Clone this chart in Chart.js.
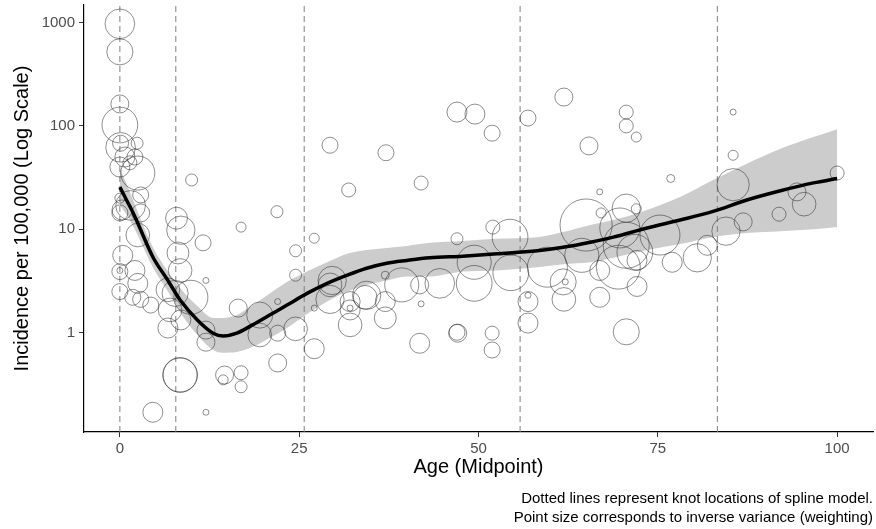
<!DOCTYPE html>
<html>
<head>
<meta charset="utf-8">
<title>Incidence by age</title>
<script src="https://cdn.jsdelivr.net/npm/chart.js@4.4.0/dist/chart.umd.min.js"></script>
<style>
  body { margin: 0; background: #fff; }
  canvas { display: block; }
</style>
</head>
<body>
<canvas id="Chart" width="876" height="529"></canvas>
<script>
// one entry per study: age midpoint, incidence per 100,000, weight (inverse variance)
var studyAge = [
    0, 0, 0, 0, 0.1, 0.1, 2.4, 0.7, 2.1, 2.5, 0, 1.4, 0, 2.9, 1.5, 0,
    10.0, 21.9, 29.3, 7.9, 8.5, 8.1, 8.4, 11.6, 16.9, 0.3, 2.9, 2.5, 0.4, 0, 0, 2.1,
    2.5, 0, 1.8, 2.9, 4.3, 6.7, 7.7, 9.9, 7.0, 8.5, 6.7, 12.0, 12.0, 12.0, 16.5, 8.4,
    8.4, 14.6, 14.4, 16.9, 16.9, 4.6, 12.0, 24.5, 27.1, 24.5, 22.0, 19.5, 19.5, 22.0, 24.5, 27.1,
    22.0, 29.6, 29.3, 29.3, 32.1, 32.1, 34.2, 37.0, 37.0, 37.0, 39.3, 41.8, 42.0, 41.8, 27.1, 37.1,
    31.9, 42.0, 47.0, 49.5, 51.9, 56.9, 61.9, 65.4, 52.0, 47.0, 54.4, 65.0, 32.1, 32.1, 34.4, 44.6,
    49.4, 49.4, 54.5, 56.9, 56.9, 59.6, 61.8, 61.9, 47.1, 47.0, 51.9, 51.9, 56.9, 66.9, 76.8, 66.9,
    67.1, 70.6, 72.0, 69.7, 70.6, 75.3, 72.1, 77.0, 80.5, 81.9, 84.5, 86.9, 85.5, 64.4, 66.9, 69.5,
    62.1, 72.1, 70.6, 70.6, 70.6, 72.0, 85.5, 85.5, 100, 94.4, 95.4, 91.9, 71.8
];
var studyRate = [
    970, 520, 163, 102, 62, 68, 68, 50, 50, 35, 40, 44, 20, 21.5, 17, 14.4,
    30, 14.8, 65, 12.8, 9.8, 5.9, 4.0, 7.4, 10.5, 15.4, 14.4, 8.8, 5.6, 3.9, 4.0, 4.0,
    3.0, 2.5, 2.2, 2.1, 1.85, 2.6, 2.4, 2.2, 1.66, 1.33, 1.11, 1.06, 0.81, 3.2, 1.73, 0.39,
    0.39, 0.39, 0.35, 0.41, 0.30, 0.17, 0.17, 6.2, 8.2, 3.6, 2.0, 1.48, 0.95, 0.99, 1.09, 0.70,
    0.51, 3.2, 2.9, 2.1, 1.66, 1.19, 2.2, 2.0, 1.39, 3.6, 2.9, 2.9, 1.9, 0.79, 1.73, 55,
    24, 28, 136, 130, 85, 119, 190, 64, 10.5, 8.1, 8.4, 11, 2.0, 1.73, 2.3, 3.0,
    4.8, 3.0, 3.8, 2.0, 1.24, 4.3, 3.1, 2.1, 0.99, 1.01, 0.99, 0.68, 2.3, 2.2, 31, 23,
    14.4, 16, 15.8, 10.3, 7.0, 8.8, 5.0, 4.8, 5.3, 7.0, 9.6, 11.8, 27, 5.6, 4.0, 4.3,
    3.1, 2.8, 1.02, 136, 100, 78, 136, 52, 35, 23, 17.5, 14, 6.0
];
var studyWeight = [
    22, 17, 8.1, 32, 22, 6.4, 3.6, 10, 6.4, 29, 10, 4.9, 2.5, 6.4, 22, 6.4,
    3.6, 3.6, 6.4, 12, 20, 12, 14, 6.4, 2.5, 10, 8.1, 14, 10, 6.4, 0.9, 10,
    10, 6.4, 6.4, 6.4, 6.4, 14, 17, 29, 14, 10, 10, 8.1, 8.1, 0.9, 8.1, 29,
    30, 8.1, 2.5, 4.9, 3.6, 10, 0.9, 3.6, 2.5, 3.6, 0.9, 17, 14, 6.4, 14, 10,
    8.1, 20, 14, 20, 10, 14, 14, 10, 12, 1.6, 29, 8.1, 0.9, 10, 0.9, 6.4,
    4.9, 4.9, 10, 10, 6.4, 6.4, 8.1, 8.1, 4.9, 3.6, 32, 68, 10, 0.9, 20, 22,
    29, 32, 32, 10, 10, 40, 17, 14, 8.1, 6.4, 4.9, 6.4, 0.9, 10, 1.6, 0.9,
    2.5, 20, 2.5, 40, 53, 40, 10, 10, 20, 10, 20, 8.1, 26, 29, 10, 48,
    0.9, 10, 17, 4.9, 4.9, 2.5, 0.9, 2.5, 4.9, 8.1, 14, 4.9, 32
];

// spline fit and its confidence band
var fitAge = [0, 1, 2, 4.6, 6.7, 8.4, 10.8, 13.0, 14.4, 16.3, 18.5, 20.9, 23.3, 26.1, 28.9, 31.7,
    34.4, 37.2, 40.0, 43.2, 47.8, 52.6, 58.2, 61.8, 65.6, 68.8, 73.5, 78.1, 82.7, 87.4, 92.1, 96.7, 100];
var fitRate = [25.6, 18.8, 13.7, 5.4, 3.2, 2.07, 1.33, 0.99, 0.93, 0.99, 1.19, 1.48, 1.85, 2.4, 3.0, 3.6,
    4.2, 4.7, 5.0, 5.3, 5.5, 5.8, 6.2, 6.7, 7.5, 8.4, 10.3, 12.3, 14.9, 19.2, 23.6, 28.1, 31];
var fitLower = [17, 13.7, 10.3, 4.3, 2.5, 1.58, 0.95, 0.68, 0.64, 0.65, 0.73, 0.89, 1.11, 1.52, 2.0, 2.5,
    2.9, 3.2, 3.5, 3.5, 3.9, 4.0, 4.3, 4.6, 4.8, 5.3, 6.3, 7.2, 8.4, 9.2, 9.6, 10.0, 10.5];
var fitUpper = [39, 27, 18, 6.7, 3.9, 2.7, 1.81, 1.39, 1.39, 1.48, 1.85, 2.4, 3.1, 3.9, 4.8, 5.8,
    6.3, 6.6, 6.9, 7.4, 7.7, 8.1, 8.4, 9.4, 11, 12.3, 15.4, 20.5, 30, 43, 60, 78, 93];

var knots = [0, 7.8, 25.7, 55.8, 83.3];

var xTicks = [0, 25, 50, 75, 100];
var yTicks = [1, 10, 100, 1000];
var xMin = -5, xMax = 105;
var yMin = 0.1096, yMax = 1476;

var FONT = "'Liberation Sans', Arial, sans-serif";

function points(xs, ys) {
    return xs.map(function(x, i) { return {x: x, y: ys[i]}; });
}

var datasets = [];

// grey band (upper edge, then lower edge filled back to it)
datasets.push({
    type: 'line',
    data: points(fitAge, fitUpper),
    borderColor: 'rgba(0,0,0,0)',
    borderWidth: 0,
    pointRadius: 0,
    fill: false,
    cubicInterpolationMode: 'monotone',
    order: 20
});
datasets.push({
    type: 'line',
    data: points(fitAge, fitLower),
    borderColor: 'rgba(0,0,0,0)',
    borderWidth: 0,
    pointRadius: 0,
    fill: '-1',
    backgroundColor: '#cccccc',
    cubicInterpolationMode: 'monotone',
    order: 19
});

// knot positions
knots.forEach(function(k) {
    datasets.push({
        type: 'line',
        data: [{x: k, y: yMin}, {x: k, y: yMax}],
        borderColor: '#808080',
        borderWidth: 1,
        borderDash: [6, 4],
        pointRadius: 0,
        fill: false,
        order: 10
    });
});

datasets.push({
    type: 'bubble',
    data: studyAge.map(function(a, i) {
        return {x: a, y: studyRate[i], r: Math.sqrt(studyWeight[i] * 10)};
    }),
    backgroundColor: 'rgba(0,0,0,0)',
    borderColor: 'rgba(40,40,40,0.75)',
    borderWidth: 0.7,
    order: 5
});

datasets.push({
    type: 'line',
    data: points(fitAge, fitRate),
    borderColor: '#000000',
    borderWidth: 3.5,
    pointRadius: 0,
    fill: false,
    cubicInterpolationMode: 'monotone',
    order: 1
});

var axisGrid = {
    drawOnChartArea: false,
    drawTicks: true,
    tickLength: 5,
    tickColor: '#333333',
    tickWidth: 1
};
var axisBorder = {display: true, color: '#000000', width: 1.2};

var Chart1 = new Chart(document.getElementById('Chart').getContext('2d'), {
    type: 'bubble',
    data: {datasets: datasets},
    options: {
        responsive: false,
        animation: false,
        events: [],
        devicePixelRatio: 1,
        layout: {autoPadding: false, padding: {top: 5, right: 3, bottom: 0, left: 0}},
        plugins: {
            legend: {display: false},
            tooltip: {enabled: false},
            title: {
                display: true,
                position: 'bottom',
                align: 'end',
                text: ['Dotted lines represent knot locations of spline model.',
                       'Point size corresponds to inverse variance (weighting)'],
                color: '#000000',
                font: {family: FONT, size: 15, weight: 'normal', lineHeight: 19 / 15},
                padding: {top: 0, bottom: 1.5}
            }
        },
        scales: {
            x: {
                type: 'linear',
                min: xMin,
                max: xMax,
                afterBuildTicks: function(scale) {
                    scale.ticks = xTicks.map(function(v) { return {value: v}; });
                },
                afterFit: function(scale) {
                    scale.height = 57.5;
                    scale.paddingLeft = 0;
                    scale.paddingRight = 0;
                },
                ticks: {
                    color: '#4d4d4d',
                    font: {family: FONT, size: 15},
                    padding: 3,
                    maxRotation: 0,
                    autoSkip: false,
                    callback: function(v) { return String(v); }
                },
                grid: axisGrid,
                border: axisBorder,
                title: {
                    display: true,
                    text: 'Age (Midpoint)',
                    color: '#000000',
                    font: {family: FONT, size: 20},
                    padding: {top: 0, bottom: 10}
                }
            },
            y: {
                type: 'logarithmic',
                min: yMin,
                max: yMax,
                afterBuildTicks: function(scale) {
                    scale.ticks = yTicks.map(function(v) { return {value: v}; });
                },
                afterFit: function(scale) {
                    scale.width = 84;
                    scale.paddingTop = 0;
                    scale.paddingBottom = 0;
                },
                ticks: {
                    color: '#4d4d4d',
                    font: {family: FONT, size: 15},
                    padding: 4,
                    autoSkip: false,
                    callback: function(v) { return String(v); }
                },
                grid: axisGrid,
                border: axisBorder,
                title: {
                    display: true,
                    text: 'Incidence per 100,000 (Log Scale)',
                    color: '#000000',
                    font: {family: FONT, size: 20},
                    padding: {top: 10, bottom: 0}
                }
            }
        }
    }
});
</script>
</body>
</html>
